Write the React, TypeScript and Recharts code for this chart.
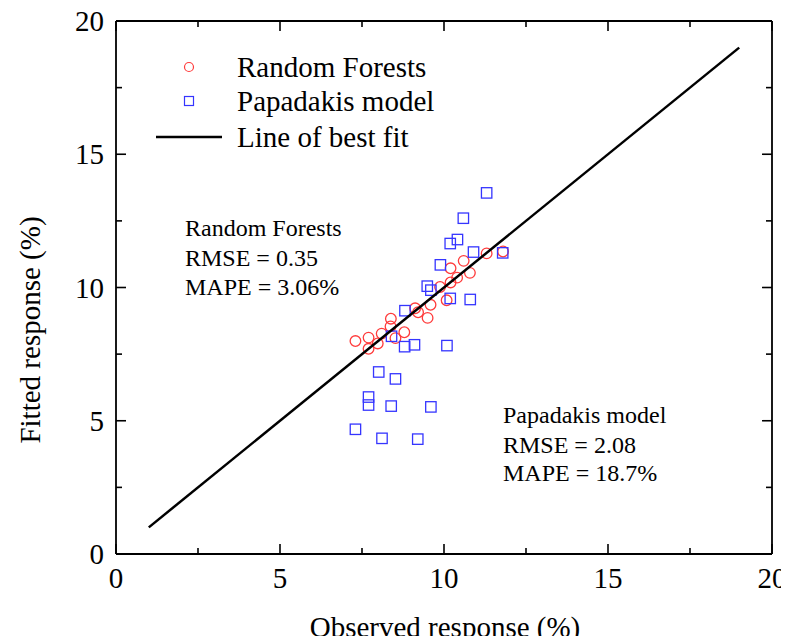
import React from "react"
import { Scatter, ScatterChart, XAxis, YAxis } from "recharts"

// Random Forests: observed vs fitted (%)
const rfObserved = [11.3, 11.8, 10.6, 10.2, 10.79, 10.4, 10.2, 9.88, 10.08, 9.59, 9.12, 9.21, 9.5, 8.38, 8.37, 8.79, 8.1, 8.52, 7.7, 7.3, 7.7, 7.98]
const rfFitted = [11.28, 11.35, 11.0, 10.72, 10.55, 10.37, 10.19, 10.02, 9.52, 9.35, 9.22, 9.07, 8.86, 8.83, 8.54, 8.32, 8.27, 8.1, 8.12, 7.99, 7.7, 7.9]

// Papadakis model: observed vs fitted (%)
const papObserved = [11.3, 10.59, 10.41, 10.19, 10.9, 11.79, 9.89, 9.49, 9.6, 10.19, 10.8, 8.81, 8.4, 8.8, 9.1, 10.09, 8.01, 8.52, 7.7, 7.7, 8.39, 9.6, 7.3, 8.11, 9.2]
const papFitted = [13.55, 12.6, 11.8, 11.65, 11.33, 11.3, 10.85, 10.05, 9.9, 9.59, 9.55, 9.13, 8.17, 7.78, 7.85, 7.82, 6.83, 6.57, 5.89, 5.59, 5.55, 5.52, 4.68, 4.34, 4.31]

const fitX = [1, 19]
const fitY = [1, 19]

const axisTicks = [0, 2.5, 5, 7.5, 10, 12.5, 15, 17.5, 20]

const rfData = rfObserved.map((x, i) => ({ x, y: rfFitted[i] }))
const papData = papObserved.map((x, i) => ({ x, y: papFitted[i] }))
const fitData = fitX.map((x, i) => ({ x, y: fitY[i] }))

const FONT = "'Liberation Serif', 'Times New Roman', serif"
const RED = "#ff3b3b"
const BLUE = "#3535ff"

const tickLen = (v: number) => (v % 5 === 0 ? 10 : 6)

const BottomTick = ({ x, y, payload }: any) => (
  <g>
    <line x1={x} x2={x} y1={y} y2={y - tickLen(payload.value)} stroke="#000" strokeWidth={1.6} />
    {payload.value % 5 === 0 && (
      <text x={x} y={y + 24} textAnchor="middle" dominantBaseline="central" fontFamily={FONT} fontSize={29} fill="#000">
        {payload.value}
      </text>
    )}
  </g>
)

const TopTick = ({ x, y, payload }: any) => (
  <line x1={x} x2={x} y1={y} y2={y + tickLen(payload.value)} stroke="#000" strokeWidth={1.6} />
)

const LeftTick = ({ x, y, payload }: any) => (
  <g>
    <line x1={x} x2={x + tickLen(payload.value)} y1={y} y2={y} stroke="#000" strokeWidth={1.6} />
    {payload.value % 5 === 0 && (
      <text x={x - 12} y={y} textAnchor="end" dominantBaseline="central" fontFamily={FONT} fontSize={29} fill="#000">
        {payload.value}
      </text>
    )}
  </g>
)

const RightTick = ({ x, y, payload }: any) => (
  <line x1={x} x2={x - tickLen(payload.value)} y1={y} y2={y} stroke="#000" strokeWidth={1.6} />
)

const Circle = ({ cx, cy }: any) => <circle cx={cx} cy={cy} r={5.3} fill="none" stroke={RED} strokeWidth={1.3} />
const Square = ({ cx, cy }: any) => <rect x={cx - 5.2} y={cy - 5.2} width={10.4} height={10.4} fill="none" stroke={BLUE} strokeWidth={1.3} />
const Nothing = () => <g />

const txt = { fontFamily: FONT, fill: "#000" }

const App = () => {
  return (
    <div style={{ position: "relative", width: 773, height: 628 }}>
      <style>{`.recharts-surface { overflow: visible; } .recharts-wrapper { overflow: visible; }`}</style>
      <ScatterChart width={773} height={628} margin={{ top: 12, right: 8, left: 0, bottom: 0 }}>
        <XAxis
          type="number"
          dataKey="x"
          domain={[0, 20]}
          ticks={axisTicks}
          interval={0}
          height={82}
          tickSize={0}
          tickMargin={0}
          tickLine={false}
          tick={BottomTick}
          axisLine={{ stroke: "#000", strokeWidth: 1.8 }}
        />
        <XAxis
          xAxisId="top"
          orientation="top"
          type="number"
          dataKey="x"
          domain={[0, 20]}
          ticks={axisTicks}
          interval={0}
          height={1}
          tickSize={0}
          tickMargin={0}
          tickLine={false}
          tick={TopTick}
          axisLine={{ stroke: "#000", strokeWidth: 1.8 }}
        />
        <YAxis
          type="number"
          dataKey="y"
          domain={[0, 20]}
          ticks={axisTicks}
          interval={0}
          width={108}
          tickSize={0}
          tickMargin={0}
          tickLine={false}
          tick={LeftTick}
          axisLine={{ stroke: "#000", strokeWidth: 1.8 }}
        />
        <YAxis
          yAxisId="right"
          orientation="right"
          type="number"
          dataKey="y"
          domain={[0, 20]}
          ticks={axisTicks}
          interval={0}
          width={1}
          tickSize={0}
          tickMargin={0}
          tickLine={false}
          tick={RightTick}
          axisLine={{ stroke: "#000", strokeWidth: 1.8 }}
        />
        <Scatter name="Random Forests" data={rfData} shape={Circle} isAnimationActive={false} />
        <Scatter name="Papadakis model" data={papData} shape={Square} isAnimationActive={false} />
        <Scatter
          name="Line of best fit"
          data={fitData}
          line={{ stroke: "#000", strokeWidth: 2.5 }}
          shape={Nothing}
          isAnimationActive={false}
        />
        <Scatter xAxisId="top" yAxisId="right" data={fitData} shape={Nothing} isAnimationActive={false} />
      </ScatterChart>
      <svg width={773} height={628} style={{ position: "absolute", left: 0, top: 0, pointerEvents: "none", overflow: "visible" }}>
        {/* legend */}
        <circle cx={181} cy={59} r={4.5} fill="none" stroke={RED} strokeWidth={1.2} />
        <rect x={176.5} y={88.5} width={9} height={9} fill="none" stroke={BLUE} strokeWidth={1.2} />
        <line x1={148} x2={214} y1={129} y2={129} stroke="#000" strokeWidth={2.5} />
        <text x={229} y={59} dominantBaseline="central" fontSize={29} {...txt}>Random Forests</text>
        <text x={229} y={93} dominantBaseline="central" fontSize={29} {...txt}>Papadakis model</text>
        <text x={229} y={129} dominantBaseline="central" fontSize={29} {...txt}>Line of best fit</text>
        {/* annotations */}
        <text x={177} y={220} dominantBaseline="central" fontSize={24} {...txt}>Random Forests</text>
        <text x={177} y={250} dominantBaseline="central" fontSize={24} {...txt}>RMSE = 0.35</text>
        <text x={177} y={279} dominantBaseline="central" fontSize={24} {...txt}>MAPE = 3.06%</text>
        <text x={495} y={407} dominantBaseline="central" fontSize={24} {...txt}>Papadakis model</text>
        <text x={495} y={437} dominantBaseline="central" fontSize={24} {...txt}>RMSE = 2.08</text>
        <text x={495} y={465} dominantBaseline="central" fontSize={24} {...txt}>MAPE = 18.7%</text>
        {/* axis titles */}
        <text x={437} y={619} textAnchor="middle" dominantBaseline="central" fontSize={29} {...txt}>Observed response (%)</text>
        <text x={22} y={322} textAnchor="middle" dominantBaseline="central" fontSize={29} transform="rotate(-90, 22, 322)" {...txt}>
          Fitted response (%)
        </text>
      </svg>
    </div>
  )
}

export default App
